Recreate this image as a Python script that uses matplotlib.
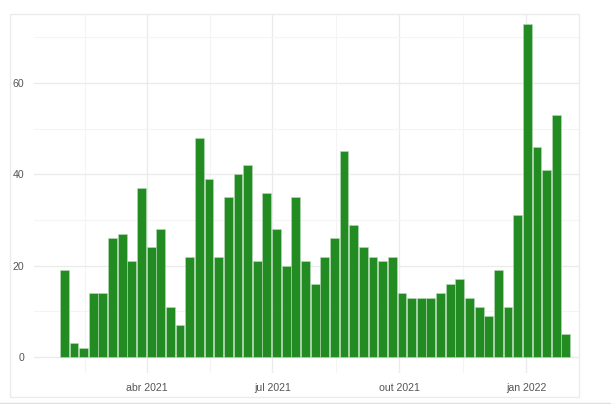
import matplotlib
matplotlib.use('Agg')
import matplotlib.pyplot as plt
import matplotlib.dates as mdates
from matplotlib.patches import Rectangle
from matplotlib.lines import Line2D
import numpy as np
import pandas as pd

plt.rcParams['font.family'] = ['Liberation Sans', 'DejaVu Sans']

# weekly counts, week starting 2021-01-31
first_week = '2021-01-31'
counts = [19, 3, 2, 14, 14, 26, 27, 21, 37, 24, 28, 11, 7, 22, 48, 39, 22,
          35, 40, 42, 21, 36, 28, 20, 35, 21, 16, 22, 26, 45, 29, 24, 22, 21,
          22, 14, 13, 13, 13, 14, 16, 17, 13, 11, 9, 19, 11, 31, 73, 46, 41,
          53, 5]
weeks = pd.date_range(first_week, periods=len(counts), freq='7D')

month_names = {1: 'jan', 4: 'abr', 7: 'jul', 10: 'out'}
major_dates = pd.to_datetime(['2021-01-01', '2021-04-01', '2021-07-01',
                              '2021-10-01', '2022-01-01', '2022-04-01'])

fig = plt.figure(figsize=(6.11, 4.04), dpi=100)
W, H = 611, 404
ax = fig.add_axes([34 / W, (H - 373) / H, (579 - 34) / W, (373 - 14) / H])

ax.bar(weeks, counts, width=6.4, color='#228B22', edgecolor='#b9dcb9',
       linewidth=0.4, zorder=2)

# ticks and grid
major_num = mdates.date2num(major_dates)
minor_num = (major_num[:-1] + major_num[1:]) / 2
ax.set_xticks(major_num)
ax.set_xticklabels([f'{month_names[d.month]} {d.year}' for d in major_dates])
ax.set_xticks(minor_num, minor=True)
ax.set_yticks([0, 20, 40, 60])
ax.set_yticks([10, 30, 50, 70], minor=True)

# axis limits (after ticks so they stick)
ax.set_xlim(mdates.date2num(pd.Timestamp('2021-01-09')),
            mdates.date2num(pd.Timestamp('2022-02-08 12:00')))
ax.set_ylim(-3.5, 75.1)

ax.grid(True, which='major', color='#ebebeb', linewidth=1.0, zorder=0)
ax.grid(True, which='minor', color='#f4f4f4', linewidth=0.8, zorder=0)
ax.set_axisbelow(True)
ax.tick_params(which='both', length=0, labelsize=7.6, colors='#555555')
ax.tick_params(axis='x', pad=7)
ax.tick_params(axis='y', pad=7)
for s in ax.spines.values():
    s.set_visible(False)

# outer frame and bottom rule
fig.patches.append(Rectangle((10 / W, (H - 397) / H), 569 / W, 383 / H,
                             transform=fig.transFigure, fill=False,
                             edgecolor='#ebebeb', linewidth=1.0))
fig.lines.append(Line2D([0, 1], [1.2 / H, 1.2 / H], transform=fig.transFigure,
                        color='#dedede', linewidth=1.0))

fig.savefig('out.png', dpi=100, facecolor='white')
